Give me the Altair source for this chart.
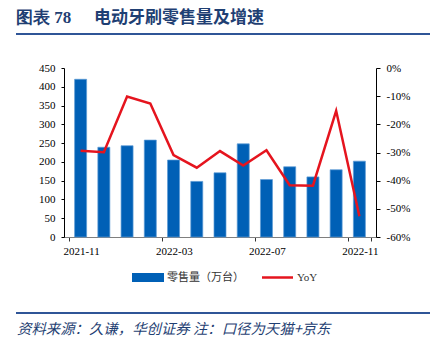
import altair as alt
import pandas as pd

months = ['2021-11', '2021-12', '2022-01', '2022-02', '2022-03', '2022-04', '2022-05',
          '2022-06', '2022-07', '2022-08', '2022-09', '2022-10', '2022-11']
sales = [420, 239, 243, 258, 205, 148, 171, 248, 153, 187, 160, 179, 202]
yoy = [-29.4, -29.9, -10.1, -12.6, -30.9, -35.4, -29.5, -34.6, -29.2, -41.6, -41.8, -15.2, -52.6]
left_ticks = [0, 50, 100, 150, 200, 250, 300, 350, 400, 450]
right_ticks = [0, -10, -20, -30, -40, -50, -60]
title_a = '图表 78'
title_b = '电动牙刷零售量及增速'
footer = '资料来源：久谦，华创证券 注：口径为天猫+京东'
legend_bar = '零售量（万台）'
legend_line = 'YoY'

df = pd.DataFrame({'idx': list(range(len(months))), 'month': months, 'sales': sales, 'yoy': yoy})

W, H = 312, 169
BLUE = '#0060B6'
RED = '#E5141E'
NAVY = '#1F3F73'
SERIF = 'Liberation Serif'
CJK = 'Noto Sans CJK SC'

xscale = alt.Scale(domain=[-0.5, len(months) - 0.5], nice=False, zero=False)
arr = '[' + ','.join(f"'{m}'" for m in months) + ']'
tick_vals = [i - 0.5 for i in range(0, len(months), 4)] + [len(months) - 0.5]
xaxis = alt.Axis(values=tick_vals,
                 labelExpr=f"{arr}[round(datum.value + 0.5)] || ''",
                 labelOffset=W / len(months) / 2, grid=False, domainColor='#7F7F7F',
                 tickColor='#333333', tickSize=4, labelPadding=4, labelFont=SERIF,
                 labelFontSize=11, labelColor='#000000', title=None, labelOverlap=False)

base = alt.Chart(df)
bars = base.mark_bar(size=12, color=BLUE, stroke='#5B9BD5', strokeWidth=0.7).encode(
    x=alt.X('idx:Q', scale=xscale, axis=xaxis),
    y=alt.Y('sales:Q', scale=alt.Scale(domain=[0, 450], nice=False),
            axis=alt.Axis(values=left_ticks, grid=False, domainColor='#000000', tickColor='#000000',
                          tickSize=3, labelPadding=6, labelFont=SERIF, labelFontSize=11,
                          labelColor='#000000', title=None))
)
line = base.mark_line(color=RED, strokeWidth=2.5).encode(
    x=alt.X('idx:Q', scale=xscale, axis=xaxis),
    y=alt.Y('yoy:Q', scale=alt.Scale(domain=[-60, 0], nice=False),
            axis=alt.Axis(orient='right', values=right_ticks, labelExpr="datum.value + '%'",
                          grid=False, domainColor='#000000', tickColor='#000000', tickSize=4,
                          labelPadding=6, labelFont=SERIF, labelFontSize=11,
                          labelColor='#000000', title=None))
)

one = alt.Chart(pd.DataFrame({'a': [0]}))

t1 = one.mark_text(align='left', baseline='middle', font=SERIF, fontSize=17, fontWeight='bold',
                   color=NAVY, text=title_a).encode(x=alt.value(-48), y=alt.value(-50))
t2 = one.mark_text(align='left', baseline='middle', font=CJK, fontSize=17, fontWeight='bold',
                   color=NAVY, text=title_b).encode(x=alt.value(30), y=alt.value(-50))
r1 = one.mark_rule(color='#2F5597', strokeWidth=2).encode(
    x=alt.value(-48), x2=alt.value(366), y=alt.value(-34))
r2 = one.mark_rule(color='#2F5597', strokeWidth=2).encode(
    x=alt.value(-48), x2=alt.value(366), y=alt.value(245))
ft = one.mark_text(align='left', baseline='middle', font=CJK, fontSize=14.4, fontStyle='italic',
                   color=NAVY, text=footer).encode(x=alt.value(-47), y=alt.value(262))

sw = one.mark_rect(color=BLUE).encode(x=alt.value(68), x2=alt.value(100),
                                      y=alt.value(205), y2=alt.value(214))
lt1 = one.mark_text(align='left', baseline='middle', font=CJK, fontSize=11, color='#333333',
                    text=legend_bar).encode(x=alt.value(103), y=alt.value(209.5))
lr = one.mark_rule(color=RED, strokeWidth=2.5).encode(x=alt.value(198), x2=alt.value(229),
                                                      y=alt.value(209.5))
lt2 = one.mark_text(align='left', baseline='middle', font=SERIF, fontSize=11, color='#333333',
                    text=legend_line).encode(x=alt.value(233), y=alt.value(209.5))

chart = alt.layer(bars, line, t1, t2, r1, r2, ft, sw, lt1, lr, lt2).resolve_scale(
    y='independent'
).properties(
    width=W, height=H,
    autosize=alt.AutoSizeParams(type='none'),
    padding={'left': 64, 'top': 68, 'right': 58, 'bottom': 115},
    background='white'
).configure_view(stroke=None)

chart.save('out.html', embed_options={'renderer': 'svg', 'actions': False})
